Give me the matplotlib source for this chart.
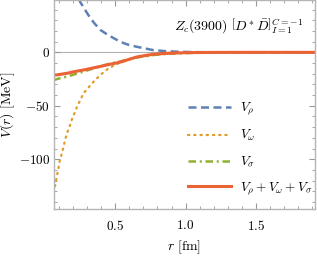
import matplotlib
matplotlib.use('Agg')
from matplotlib import pyplot as plt
from matplotlib.ticker import MultipleLocator, FuncFormatter

# values (r in fm, V in MeV)
r_rho = [0.06, 0.1, 0.15, 0.2, 0.252, 0.287, 0.317, 0.353, 0.394, 0.452, 0.5,
         0.535, 0.583, 0.654, 0.77, 0.85, 0.94, 1.05, 1.2, 1.4, 1.92]
v_rho = [145, 115, 85, 63, 47, 39.5, 33.3, 27, 21, 16, 12.5,
         10, 7.5, 5.2, 2.1, 1.2, 0.6, 0.25, 0.05, 0, 0]

r_omega = [0.06, 0.07, 0.077, 0.084, 0.091, 0.098, 0.105, 0.115, 0.124, 0.134,
           0.14, 0.15, 0.162, 0.176, 0.186, 0.2, 0.216, 0.228, 0.247, 0.275,
           0.335, 0.394, 0.452, 0.512, 0.6, 0.7, 0.8, 0.9, 1.0, 1.2, 1.5, 1.92]
v_omega = [-131, -127, -122, -117, -112, -107.5, -102, -97.6, -93, -88,
           -84, -79, -74, -69.5, -65, -60, -55.5, -51, -46, -38.3,
           -29, -21.2, -15, -10.9, -6.5, -3.5, -1.9, -1.0, -0.5, -0.1, 0, 0]

r_sigma = [0.06, 0.1, 0.157, 0.2, 0.275, 0.37, 0.45, 0.535, 0.6, 0.654,
           0.772, 0.85, 0.94, 1.05, 1.2, 1.4, 1.92]
v_sigma = [-26, -24.5, -22.7, -21, -18, -14, -11, -8.5, -6.3, -4.8,
           -2.5, -1.6, -1.0, -0.5, -0.2, -0.05, 0]

r_total = [0.06, 0.1, 0.157, 0.2, 0.275, 0.335, 0.394, 0.45, 0.535, 0.6,
           0.654, 0.72, 0.772, 0.85, 0.94, 1.05, 1.2, 1.4, 1.92]
v_total = [-21.5, -20.8, -19.6, -18.3, -16.5, -14.8, -13.2, -11.5, -9.2, -6.5,
           -4.3, -2.8, -1.8, -1.0, -0.5, -0.2, -0.05, 0, 0]

labels = [r'$V_\rho$', r'$V_\omega$', r'$V_\sigma$', r'$V_\rho+V_\omega+V_\sigma$']
title = r'$Z_c(3900)\ \left[D^*\bar{D}\right]^{C=-1}_{I=1}$'

plt.rcParams['mathtext.fontset'] = 'cm'
plt.rcParams['font.family'] = 'serif'

fig = plt.figure(figsize=(3.17, 2.56), dpi=100)
ax = fig.add_axes([0.169, 0.182, 0.825, 0.818])

ax.axhline(0, color='#b0b0b0', lw=0.8, zorder=1)
ax.plot(r_rho, v_rho, color='#5E81B5', lw=1.8, dashes=(3.2, 1.8), label=labels[0])
ax.plot(r_omega, v_omega, color='#E19C24', lw=1.6, dashes=(0.6, 2.2),
        dash_capstyle='round', label=labels[1])
ax.plot(r_sigma, v_sigma, color='#8FB032', lw=1.8, dashes=(3.0, 1.5, 0.8, 1.5),
        label=labels[2])
ax.plot(r_total, v_total, color='#EB6235', lw=2.2, label=labels[3])

ax.set_xlim(0.062, 1.92)
ax.set_ylim(-147, 49)

ax.xaxis.set_major_locator(MultipleLocator(0.5))
ax.xaxis.set_minor_locator(MultipleLocator(0.1))
ax.yaxis.set_major_locator(MultipleLocator(50))
ax.yaxis.set_minor_locator(MultipleLocator(10))
ax.xaxis.set_major_formatter(FuncFormatter(lambda v, p: f'${v:.1f}$'))
ax.yaxis.set_major_formatter(FuncFormatter(lambda v, p: f'${v:.0f}$'))

ax.tick_params(which='both', direction='in', top=True, right=True,
               color='#999999', labelsize=9.5)
ax.tick_params(axis='x', pad=7)
ax.tick_params(axis='y', pad=2.5)
ax.tick_params(which='major', length=4, width=0.8)
ax.tick_params(which='minor', length=2.2, width=0.6)
for s in ax.spines.values():
    s.set_color('#b5b5b5')
    s.set_linewidth(1.0)

ax.set_xlabel(r'$r\ [\mathrm{fm}]$', fontsize=10)
ax.set_ylabel(r'$V(r)\ [\mathrm{MeV}]$', fontsize=10)
ax.xaxis.set_label_coords(0.5, -0.14)
ax.yaxis.set_label_coords(-0.138, 0.5)

ax.text(0.955, 0.875, title, transform=ax.transAxes, ha='right', va='center',
        fontsize=10)

ax.legend(loc='center left', bbox_to_anchor=(0.47, 0.29), frameon=False,
          fontsize=9.5, handlelength=3.2, handletextpad=0.7, labelspacing=0.85)

fig.savefig('out.png', dpi=100)
